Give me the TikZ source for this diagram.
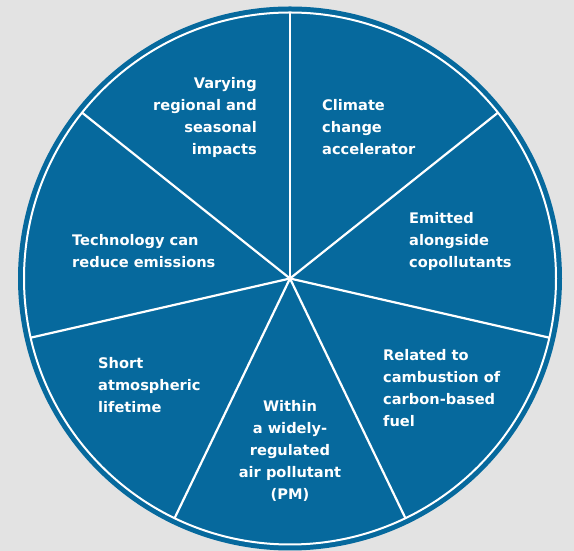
\documentclass[tikz,border=0pt]{standalone}
\usepackage{fontspec}
\setmainfont{DejaVu Sans}
\usepackage{tikz}
\definecolor{sea}{HTML}{06699D}
\definecolor{paper}{HTML}{E3E3E3}
\tikzset{facet/.style={text=white,inner sep=0pt,
  font=\bfseries\fontsize{14.6}{22}\selectfont},
  spoke/.style={draw=white,line width=2.2pt},
  rim/.style={draw=white,line width=2pt}}

\begin{document}
\begin{tikzpicture}[x=1pt,y=1pt]
\fill[paper] (0,0) rectangle (574,551);
\useasboundingbox (0,0) rectangle (574,551);
\coordinate (hub) at (290,272.5);
\fill[sea] (hub) circle (272);
\draw[rim] (hub) circle (266);
\foreach \k in {0,...,6}
  \draw[spoke] (hub) -- ++({90-\k*360/7}:266);
% anchors sit on the last line of each text
\node[facet,align=right,anchor=base east] (varying) at (257,396)
{Varying\\regional and\\seasonal\\impacts};
\node[facet,align=left,anchor=base west] (climate) at (322,396)
{Climate\\change\\accelerator};
\node[facet,align=left,anchor=base west] (emitted) at (409,283)
{Emitted\\alongside\\copollutants};
\node[facet,align=left,anchor=base west] (related) at (383,124)
{Related to\\cambustion of\\carbon-based\\fuel};
\node[facet,align=center,anchor=base] (within) at (290,51)
{Within\\a widely-\\regulated\\air pollutant\\(PM)};
\node[facet,align=left,anchor=base west] (short) at (98,138)
{Short\\atmospheric\\lifetime};
\node[facet,align=left,anchor=base west] (techno) at (72,283)
{Technology can\\reduce emissions};
\end{tikzpicture}
\end{document}
